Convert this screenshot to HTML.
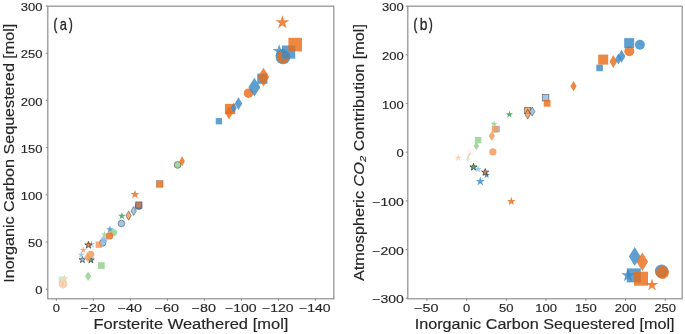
<!DOCTYPE html>
<html><head><meta charset="utf-8"><style>
html,body{margin:0;padding:0;background:#fff;width:685px;height:334px;overflow:hidden}
svg{display:block;will-change:transform}
text{font-family:"Liberation Sans", sans-serif;fill:#262626;stroke:#262626;stroke-width:0.15px}
</style></head><body>
<svg width="685" height="334" viewBox="0 0 685 334">
<rect width="685" height="334" fill="#fff"/>
<rect x="47.8" y="6.2" width="286.0" height="292.6" fill="none" stroke="#8e8e8e" stroke-width="1.2"/>
<rect x="407.8" y="6.2" width="274.40000000000003" height="292.6" fill="none" stroke="#8e8e8e" stroke-width="1.2"/>
<line x1="45.8" y1="289.2" x2="47.8" y2="289.2" stroke="#8e8e8e" stroke-width="1.1"/>
<text x="42.5" y="294.3" text-anchor="end" font-size="11.5" textLength="7.22" lengthAdjust="spacingAndGlyphs">0</text>
<line x1="45.8" y1="242.0" x2="47.8" y2="242.0" stroke="#8e8e8e" stroke-width="1.1"/>
<text x="42.5" y="247.1" text-anchor="end" font-size="11.5" textLength="14.44" lengthAdjust="spacingAndGlyphs">50</text>
<line x1="45.8" y1="194.8" x2="47.8" y2="194.8" stroke="#8e8e8e" stroke-width="1.1"/>
<text x="42.5" y="199.9" text-anchor="end" font-size="11.5" textLength="21.66" lengthAdjust="spacingAndGlyphs">100</text>
<line x1="45.8" y1="147.6" x2="47.8" y2="147.6" stroke="#8e8e8e" stroke-width="1.1"/>
<text x="42.5" y="152.7" text-anchor="end" font-size="11.5" textLength="21.66" lengthAdjust="spacingAndGlyphs">150</text>
<line x1="45.8" y1="100.4" x2="47.8" y2="100.4" stroke="#8e8e8e" stroke-width="1.1"/>
<text x="42.5" y="105.5" text-anchor="end" font-size="11.5" textLength="21.66" lengthAdjust="spacingAndGlyphs">200</text>
<line x1="45.8" y1="53.19999999999999" x2="47.8" y2="53.19999999999999" stroke="#8e8e8e" stroke-width="1.1"/>
<text x="42.5" y="58.29999999999999" text-anchor="end" font-size="11.5" textLength="21.66" lengthAdjust="spacingAndGlyphs">250</text>
<line x1="45.8" y1="6.0" x2="47.8" y2="6.0" stroke="#8e8e8e" stroke-width="1.1"/>
<text x="42.5" y="11.1" text-anchor="end" font-size="11.5" textLength="21.66" lengthAdjust="spacingAndGlyphs">300</text>
<line x1="56.4" y1="298.8" x2="56.4" y2="300.8" stroke="#8e8e8e" stroke-width="1.1"/>
<text x="56.40" y="311.9" text-anchor="middle" font-size="11.5" textLength="7.22" lengthAdjust="spacingAndGlyphs">0</text>
<line x1="93.4" y1="298.8" x2="93.4" y2="300.8" stroke="#8e8e8e" stroke-width="1.1"/>
<text x="92.80" y="311.9" text-anchor="middle" font-size="11.5" textLength="24.33" lengthAdjust="spacingAndGlyphs">−20</text>
<line x1="130.4" y1="298.8" x2="130.4" y2="300.8" stroke="#8e8e8e" stroke-width="1.1"/>
<text x="129.80" y="311.9" text-anchor="middle" font-size="11.5" textLength="24.33" lengthAdjust="spacingAndGlyphs">−40</text>
<line x1="167.4" y1="298.8" x2="167.4" y2="300.8" stroke="#8e8e8e" stroke-width="1.1"/>
<text x="166.80" y="311.9" text-anchor="middle" font-size="11.5" textLength="24.33" lengthAdjust="spacingAndGlyphs">−60</text>
<line x1="204.4" y1="298.8" x2="204.4" y2="300.8" stroke="#8e8e8e" stroke-width="1.1"/>
<text x="203.80" y="311.9" text-anchor="middle" font-size="11.5" textLength="24.33" lengthAdjust="spacingAndGlyphs">−80</text>
<line x1="241.4" y1="298.8" x2="241.4" y2="300.8" stroke="#8e8e8e" stroke-width="1.1"/>
<text x="240.80" y="311.9" text-anchor="middle" font-size="11.5" textLength="31.55" lengthAdjust="spacingAndGlyphs">−100</text>
<line x1="278.4" y1="298.8" x2="278.4" y2="300.8" stroke="#8e8e8e" stroke-width="1.1"/>
<text x="277.80" y="311.9" text-anchor="middle" font-size="11.5" textLength="31.55" lengthAdjust="spacingAndGlyphs">−120</text>
<line x1="315.4" y1="298.8" x2="315.4" y2="300.8" stroke="#8e8e8e" stroke-width="1.1"/>
<text x="314.80" y="311.9" text-anchor="middle" font-size="11.5" textLength="31.55" lengthAdjust="spacingAndGlyphs">−140</text>
<line x1="405.8" y1="6.189999999999969" x2="407.8" y2="6.189999999999969" stroke="#8e8e8e" stroke-width="1.1"/>
<text x="403.8" y="11.289999999999969" text-anchor="end" font-size="11.5" textLength="21.66" lengthAdjust="spacingAndGlyphs">300</text>
<line x1="405.8" y1="54.859999999999985" x2="407.8" y2="54.859999999999985" stroke="#8e8e8e" stroke-width="1.1"/>
<text x="403.8" y="59.95999999999999" text-anchor="end" font-size="11.5" textLength="21.66" lengthAdjust="spacingAndGlyphs">200</text>
<line x1="405.8" y1="103.52999999999999" x2="407.8" y2="103.52999999999999" stroke="#8e8e8e" stroke-width="1.1"/>
<text x="403.8" y="108.62999999999998" text-anchor="end" font-size="11.5" textLength="21.66" lengthAdjust="spacingAndGlyphs">100</text>
<line x1="405.8" y1="152.2" x2="407.8" y2="152.2" stroke="#8e8e8e" stroke-width="1.1"/>
<text x="403.8" y="157.29999999999998" text-anchor="end" font-size="11.5" textLength="7.22" lengthAdjust="spacingAndGlyphs">0</text>
<line x1="405.8" y1="200.87" x2="407.8" y2="200.87" stroke="#8e8e8e" stroke-width="1.1"/>
<text x="403.8" y="205.97" text-anchor="end" font-size="11.5" textLength="31.55" lengthAdjust="spacingAndGlyphs">−100</text>
<line x1="405.8" y1="249.54" x2="407.8" y2="249.54" stroke="#8e8e8e" stroke-width="1.1"/>
<text x="403.8" y="254.64" text-anchor="end" font-size="11.5" textLength="31.55" lengthAdjust="spacingAndGlyphs">−200</text>
<line x1="405.8" y1="298.21000000000004" x2="407.8" y2="298.21000000000004" stroke="#8e8e8e" stroke-width="1.1"/>
<text x="403.8" y="303.31000000000006" text-anchor="end" font-size="11.5" textLength="31.55" lengthAdjust="spacingAndGlyphs">−300</text>
<line x1="426.87" y1="298.8" x2="426.87" y2="300.8" stroke="#8e8e8e" stroke-width="1.1"/>
<text x="426.27" y="311.9" text-anchor="middle" font-size="11.5" textLength="24.33" lengthAdjust="spacingAndGlyphs">−50</text>
<line x1="466.6" y1="298.8" x2="466.6" y2="300.8" stroke="#8e8e8e" stroke-width="1.1"/>
<text x="466.60" y="311.9" text-anchor="middle" font-size="11.5" textLength="7.22" lengthAdjust="spacingAndGlyphs">0</text>
<line x1="506.33000000000004" y1="298.8" x2="506.33000000000004" y2="300.8" stroke="#8e8e8e" stroke-width="1.1"/>
<text x="506.33" y="311.9" text-anchor="middle" font-size="11.5" textLength="14.44" lengthAdjust="spacingAndGlyphs">50</text>
<line x1="546.0600000000001" y1="298.8" x2="546.0600000000001" y2="300.8" stroke="#8e8e8e" stroke-width="1.1"/>
<text x="546.06" y="311.9" text-anchor="middle" font-size="11.5" textLength="21.66" lengthAdjust="spacingAndGlyphs">100</text>
<line x1="585.79" y1="298.8" x2="585.79" y2="300.8" stroke="#8e8e8e" stroke-width="1.1"/>
<text x="585.79" y="311.9" text-anchor="middle" font-size="11.5" textLength="21.66" lengthAdjust="spacingAndGlyphs">150</text>
<line x1="625.52" y1="298.8" x2="625.52" y2="300.8" stroke="#8e8e8e" stroke-width="1.1"/>
<text x="625.52" y="311.9" text-anchor="middle" font-size="11.5" textLength="21.66" lengthAdjust="spacingAndGlyphs">200</text>
<line x1="665.25" y1="298.8" x2="665.25" y2="300.8" stroke="#8e8e8e" stroke-width="1.1"/>
<text x="665.25" y="311.9" text-anchor="middle" font-size="11.5" textLength="21.66" lengthAdjust="spacingAndGlyphs">250</text>
<text x="190.9" y="328.6" text-anchor="middle" font-size="13.8" textLength="195" lengthAdjust="spacingAndGlyphs">Forsterite Weathered [mol]</text>
<text x="544.6" y="328.6" text-anchor="middle" font-size="13.8" textLength="259.8" lengthAdjust="spacingAndGlyphs">Inorganic Carbon Sequestered [mol]</text>
<text transform="translate(13.9,153.2) rotate(-90)" x="0" y="0" text-anchor="middle" font-size="13.8" textLength="259" lengthAdjust="spacingAndGlyphs">Inorganic Carbon Sequestered [mol]</text>
<text transform="translate(363.9,152.6) rotate(-90)" x="0" y="0" text-anchor="middle" font-size="13.8" textLength="257" lengthAdjust="spacingAndGlyphs">Atmospheric <tspan font-style="italic">CO</tspan><tspan font-style="italic" font-size="9.5" dy="2.5">2</tspan><tspan dy="-2.5"> Contribution [mol]</tspan></text>
<text transform="translate(53.6,29.7) scale(0.65,1)" font-size="17.1" fill="#111" stroke="#111" style="stroke-width:0.6px">(</text>
<text transform="translate(59.66,29.7) scale(0.83,1)" font-size="15.6" fill="#111" stroke="#111" style="stroke-width:0.3px">a</text>
<text transform="translate(69.1,29.7) scale(0.65,1)" font-size="17.1" fill="#111" stroke="#111" style="stroke-width:0.6px">)</text>
<text transform="translate(413.6,29.7) scale(0.65,1)" font-size="17.1" fill="#111" stroke="#111" style="stroke-width:0.6px">(</text>
<text transform="translate(419.65999999999997,29.7) scale(0.84,1)" font-size="16.5" fill="#111" stroke="#111" style="stroke-width:0.3px">b</text>
<text transform="translate(429.1,29.7) scale(0.65,1)" font-size="17.1" fill="#111" stroke="#111" style="stroke-width:0.6px">)</text>
<path d="M64.40,274.60 L65.30,277.36 L68.20,277.36 L65.85,279.07 L66.75,281.84 L64.40,280.13 L62.05,281.84 L62.95,279.07 L60.60,277.36 L63.50,277.36 Z" fill="#F6C8A4" fill-opacity="0.85"/>
<rect x="58.60" y="276.30" width="6.6" height="6.6" fill="#CDE8C2" fill-opacity="0.9"/>
<circle cx="63.0" cy="284.0" r="4.4" fill="#F6C8A4" fill-opacity="0.9"/>
<path d="M62.60,279.50 L65.30,284.00 L62.60,288.50 L59.90,284.00 Z" fill="#F6C8A4" fill-opacity="0.9" stroke="#ffffff" stroke-width="0.6" stroke-opacity="0.6"/>
<rect x="97.95" y="262.25" width="6.7" height="6.7" fill="#91CE8B" fill-opacity="0.82"/>
<path d="M88.10,271.60 L91.20,276.30 L88.10,281.00 L85.00,276.30 Z" fill="#91CE8B" fill-opacity="0.82"/>
<path d="M82.40,256.30 L83.19,258.72 L85.73,258.72 L83.67,260.21 L84.46,262.63 L82.40,261.14 L80.34,262.63 L81.13,260.21 L79.07,258.72 L81.61,258.72 Z" fill="#8BBCE7" fill-opacity="0.82" stroke="#333333" stroke-width="0.8" stroke-opacity="0.85"/>
<path d="M90.90,256.50 L91.69,258.92 L94.23,258.92 L92.17,260.41 L92.96,262.83 L90.90,261.34 L88.84,262.83 L89.63,260.41 L87.57,258.92 L90.11,258.92 Z" fill="#2E9E50" fill-opacity="0.82" stroke="#333333" stroke-width="0.8" stroke-opacity="0.85"/>
<path d="M83.30,246.30 L84.15,248.93 L86.91,248.93 L84.68,250.55 L85.53,253.17 L83.30,251.55 L81.07,253.17 L81.92,250.55 L79.69,248.93 L82.45,248.93 Z" fill="#F39754" fill-opacity="0.82"/>
<path d="M81.20,251.00 L82.05,253.63 L84.81,253.63 L82.58,255.25 L83.43,257.87 L81.20,256.25 L78.97,257.87 L79.82,255.25 L77.59,253.63 L80.35,253.63 Z" fill="#8BBCE7" fill-opacity="0.82"/>
<circle cx="90.7" cy="254.4" r="3.6" fill="#F39754" fill-opacity="0.82"/>
<path d="M87.70,251.70 L90.95,257.10 L87.70,262.50 L84.45,257.10 Z" fill="#F39754" fill-opacity="0.82" stroke="#ffffff" stroke-width="0.5" stroke-opacity="0.6"/>
<path d="M91.60,240.50 L92.45,243.13 L95.21,243.13 L92.98,244.75 L93.83,247.37 L91.60,245.75 L89.37,247.37 L90.22,244.75 L87.99,243.13 L90.75,243.13 Z" fill="#8BBCE7" fill-opacity="0.82"/>
<path d="M88.40,241.30 L89.25,243.93 L92.01,243.93 L89.78,245.55 L90.63,248.17 L88.40,246.55 L86.17,248.17 L87.02,245.55 L84.79,243.93 L87.55,243.93 Z" fill="#EA6D17" fill-opacity="0.82" stroke="#333333" stroke-width="0.8" stroke-opacity="0.85"/>
<circle cx="102.6" cy="242.9" r="3.3" fill="#8BBCE7" fill-opacity="0.82" stroke="#333333" stroke-width="0.8" stroke-opacity="0.6"/>
<circle cx="104.1" cy="239.8" r="3.4" fill="#8BBCE7" fill-opacity="0.82"/>
<rect x="95.60" y="241.50" width="6.4" height="6.4" fill="#F39754" fill-opacity="0.82"/>
<path d="M104.60,230.80 L105.45,233.43 L108.21,233.43 L105.98,235.05 L106.83,237.67 L104.60,236.05 L102.37,237.67 L103.22,235.05 L100.99,233.43 L103.75,233.43 Z" fill="#91CE8B" fill-opacity="0.82"/>
<path d="M110.00,225.60 L110.90,228.36 L113.80,228.36 L111.45,230.07 L112.35,232.84 L110.00,231.13 L107.65,232.84 L108.55,230.07 L106.20,228.36 L109.10,228.36 Z" fill="#3C8AC6" fill-opacity="0.82"/>
<circle cx="113.5" cy="232.5" r="3.6" fill="#91CE8B" fill-opacity="0.82"/>
<circle cx="109.6" cy="235.9" r="3.65" fill="#EA6D17" fill-opacity="0.82"/>
<circle cx="121.4" cy="223.5" r="3.3" fill="#8BBCE7" fill-opacity="0.82" stroke="#333333" stroke-width="0.8" stroke-opacity="0.6"/>
<path d="M121.90,212.00 L122.80,214.76 L125.70,214.76 L123.35,216.47 L124.25,219.24 L121.90,217.53 L119.55,219.24 L120.45,216.47 L118.10,214.76 L121.00,214.76 Z" fill="#2E9E50" fill-opacity="0.82"/>
<path d="M128.60,211.20 L131.30,215.70 L128.60,220.20 L125.90,215.70 Z" fill="#F39754" fill-opacity="0.82" stroke="#333333" stroke-width="0.8" stroke-opacity="0.6"/>
<path d="M133.60,206.50 L136.30,211.00 L133.60,215.50 L130.90,211.00 Z" fill="#8BBCE7" fill-opacity="0.82" stroke="#333333" stroke-width="0.8" stroke-opacity="0.6"/>
<circle cx="138.6" cy="206.2" r="3.7" fill="#3C8AC6" fill-opacity="0.82"/>
<rect x="135.70" y="201.90" width="6.3" height="6.3" fill="#B97D64" fill-opacity="0.95" stroke="#333333" stroke-width="0.8" stroke-opacity="0.6"/>
<path d="M135.00,189.65 L136.09,193.00 L139.61,193.00 L136.76,195.07 L137.85,198.42 L135.00,196.35 L132.15,198.42 L133.24,195.07 L130.39,193.00 L133.91,193.00 Z" fill="#EA6D17" fill-opacity="0.82"/>
<rect x="156.45" y="180.60" width="6.6" height="6.6" fill="#EA6D17" fill-opacity="0.82" stroke="#333333" stroke-width="0.5" stroke-opacity="0.6"/>
<circle cx="177.6" cy="164.9" r="3.4" fill="#91CE8B" fill-opacity="0.82" stroke="#333333" stroke-width="0.8" stroke-opacity="0.6"/>
<path d="M182.10,156.25 L184.90,161.20 L182.10,166.15 L179.30,161.20 Z" fill="#EA6D17" fill-opacity="0.82"/>
<rect x="215.75" y="118.05" width="6.3" height="6.3" fill="#3C8AC6" fill-opacity="0.82"/>
<path d="M229.00,106.50 L232.90,113.00 L229.00,119.50 L225.10,113.00 Z" fill="#EA6D17" fill-opacity="0.82"/>
<rect x="224.95" y="103.85" width="10.3" height="10.3" fill="#EA6D17" fill-opacity="0.82"/>
<path d="M233.70,102.85 L236.80,108.10 L233.70,113.35 L230.60,108.10 Z" fill="#3C8AC6" fill-opacity="0.82"/>
<path d="M238.50,97.15 L242.30,103.60 L238.50,110.05 L234.70,103.60 Z" fill="#3C8AC6" fill-opacity="0.82"/>
<circle cx="248.5" cy="93.2" r="4.8" fill="#EA6D17" fill-opacity="0.82"/>
<path d="M254.40,77.80 L260.40,87.20 L254.40,96.60 L248.40,87.20 Z" fill="#3C8AC6" fill-opacity="0.82"/>
<rect x="257.20" y="73.60" width="10.2" height="10.2" fill="#3C8AC6" fill-opacity="0.82"/>
<path d="M263.50,67.65 L269.20,77.10 L263.50,86.55 L257.80,77.10 Z" fill="#EA6D17" fill-opacity="0.82"/>
<path d="M282.40,15.20 L284.02,20.18 L289.25,20.18 L285.02,23.25 L286.63,28.22 L282.40,25.15 L278.17,28.22 L279.78,23.25 L275.55,20.18 L280.78,20.18 Z" fill="#EA6D17" fill-opacity="0.82"/>
<path d="M279.20,44.30 L280.75,49.07 L285.76,49.07 L281.71,52.01 L283.26,56.78 L279.20,53.84 L275.14,56.78 L276.69,52.01 L272.64,49.07 L277.65,49.07 Z" fill="#3C8AC6" fill-opacity="0.82"/>
<circle cx="283.0" cy="57.0" r="7.3" fill="#3C8AC6" fill-opacity="0.82"/>
<circle cx="283.2" cy="56.8" r="6.4" fill="#EA6D17" fill-opacity="0.82"/>
<rect x="282.00" y="45.50" width="13.2" height="13.2" fill="#3C8AC6" fill-opacity="0.82"/>
<rect x="288.40" y="37.80" width="13.6" height="13.6" fill="#EA6D17" fill-opacity="0.82"/>
<path d="M458.20,154.10 L459.05,156.73 L461.81,156.73 L459.58,158.35 L460.43,160.97 L458.20,159.35 L455.97,160.97 L456.82,158.35 L454.59,156.73 L457.35,156.73 Z" fill="#F6C8A4" fill-opacity="0.75"/>
<circle cx="470.6" cy="152.2" r="3.8" fill="#FBE9DC" fill-opacity="0.35"/>
<path d="M468.00,156.70 L470.00,159.20 L468.00,161.70 L466.00,159.20 Z" fill="#CDE8C2" fill-opacity="0.8"/>
<line x1="467.4" y1="157.6" x2="470.3" y2="152.9" stroke="#F3B88C" stroke-width="1.3" stroke-opacity="0.75"/>
<rect x="474.90" y="137.00" width="6.4" height="6.4" fill="#91CE8B" fill-opacity="0.82"/>
<path d="M476.30,141.70 L479.05,145.90 L476.30,150.10 L473.55,145.90 Z" fill="#91CE8B" fill-opacity="0.82"/>
<circle cx="492.9" cy="151.9" r="3.6" fill="#F39754" fill-opacity="0.82"/>
<path d="M491.85,131.00 L494.95,136.00 L491.85,141.00 L488.75,136.00 Z" fill="#F39754" fill-opacity="0.82"/>
<rect x="493.80" y="125.80" width="6.4" height="6.4" fill="#8BBCE7" fill-opacity="0.82"/>
<rect x="491.80" y="126.00" width="6.6" height="6.6" fill="#F39754" fill-opacity="0.82"/>
<path d="M494.10,120.30 L494.93,122.86 L497.62,122.86 L495.44,124.44 L496.27,126.99 L494.10,125.41 L491.93,126.99 L492.76,124.44 L490.58,122.86 L493.27,122.86 Z" fill="#91CE8B" fill-opacity="0.82"/>
<path d="M509.40,110.70 L510.25,113.33 L513.01,113.33 L510.78,114.95 L511.63,117.57 L509.40,115.95 L507.17,117.57 L508.02,114.95 L505.79,113.33 L508.55,113.33 Z" fill="#2E9E50" fill-opacity="0.82"/>
<rect x="524.60" y="107.40" width="6.2" height="6.2" fill="#F39754" fill-opacity="0.82" stroke="#333333" stroke-width="0.8" stroke-opacity="0.6"/>
<path d="M527.70,109.20 L530.40,114.20 L527.70,119.20 L525.00,114.20 Z" fill="#F39754" fill-opacity="0.82" stroke="#333333" stroke-width="0.8" stroke-opacity="0.6"/>
<path d="M532.20,107.00 L534.90,111.50 L532.20,116.00 L529.50,111.50 Z" fill="#8BBCE7" fill-opacity="0.82" stroke="#333333" stroke-width="0.8" stroke-opacity="0.6"/>
<rect x="542.35" y="94.45" width="6.5" height="6.5" fill="#8BBCE7" fill-opacity="0.82" stroke="#333333" stroke-width="0.8" stroke-opacity="0.6"/>
<rect x="543.70" y="99.90" width="6.8" height="6.8" fill="#EA6D17" fill-opacity="0.82"/>
<path d="M573.50,81.10 L576.60,86.20 L573.50,91.30 L570.40,86.20 Z" fill="#EA6D17" fill-opacity="0.82"/>
<rect x="596.30" y="64.60" width="6.6" height="6.6" fill="#3C8AC6" fill-opacity="0.82"/>
<rect x="598.20" y="54.60" width="10.0" height="10.0" fill="#EA6D17" fill-opacity="0.82"/>
<path d="M613.30,54.90 L617.10,61.40 L613.30,67.90 L609.50,61.40 Z" fill="#EA6D17" fill-opacity="0.82"/>
<path d="M618.40,53.40 L621.70,58.90 L618.40,64.40 L615.10,58.90 Z" fill="#3C8AC6" fill-opacity="0.82"/>
<path d="M621.60,49.70 L625.40,56.20 L621.60,62.70 L617.80,56.20 Z" fill="#3C8AC6" fill-opacity="0.82"/>
<circle cx="629.3" cy="51.2" r="5.0" fill="#EA6D17" fill-opacity="0.82"/>
<rect x="624.20" y="38.10" width="10.0" height="10.0" fill="#3C8AC6" fill-opacity="0.82"/>
<circle cx="639.9" cy="44.8" r="4.95" fill="#3C8AC6" fill-opacity="0.82"/>
<path d="M473.50,163.30 L474.35,165.93 L477.11,165.93 L474.88,167.55 L475.73,170.17 L473.50,168.55 L471.27,170.17 L472.12,167.55 L469.89,165.93 L472.65,165.93 Z" fill="#2E9E50" fill-opacity="0.82" stroke="#333333" stroke-width="0.8" stroke-opacity="0.85"/>
<path d="M478.00,165.40 L478.85,168.03 L481.61,168.03 L479.38,169.65 L480.23,172.27 L478.00,170.65 L475.77,172.27 L476.62,169.65 L474.39,168.03 L477.15,168.03 Z" fill="#8BBCE7" fill-opacity="0.82"/>
<path d="M486.60,171.40 L487.45,174.03 L490.21,174.03 L487.98,175.65 L488.83,178.27 L486.60,176.65 L484.37,178.27 L485.22,175.65 L482.99,174.03 L485.75,174.03 Z" fill="#3C8AC6" fill-opacity="0.82"/>
<path d="M485.20,168.50 L486.05,171.13 L488.81,171.13 L486.58,172.75 L487.43,175.37 L485.20,173.75 L482.97,175.37 L483.82,172.75 L481.59,171.13 L484.35,171.13 Z" fill="#EA6D17" fill-opacity="0.82" stroke="#333333" stroke-width="0.8" stroke-opacity="0.85"/>
<path d="M480.30,176.70 L481.38,180.02 L484.87,180.02 L482.04,182.07 L483.12,185.38 L480.30,183.33 L477.48,185.38 L478.56,182.07 L475.73,180.02 L479.22,180.02 Z" fill="#3C8AC6" fill-opacity="0.82"/>
<path d="M511.30,196.80 L512.33,199.98 L515.67,199.98 L512.97,201.94 L514.00,205.12 L511.30,203.16 L508.60,205.12 L509.63,201.94 L506.93,199.98 L510.27,199.98 Z" fill="#EA6D17" fill-opacity="0.82"/>
<path d="M634.70,247.10 L640.60,256.50 L634.70,265.90 L628.80,256.50 Z" fill="#3C8AC6" fill-opacity="0.82"/>
<path d="M642.30,252.50 L648.10,261.80 L642.30,271.10 L636.50,261.80 Z" fill="#EA6D17" fill-opacity="0.82"/>
<path d="M627.90,268.50 L629.47,273.34 L634.56,273.34 L630.44,276.33 L632.01,281.16 L627.90,278.17 L623.79,281.16 L625.36,276.33 L621.24,273.34 L626.33,273.34 Z" fill="#3C8AC6" fill-opacity="0.82"/>
<rect x="626.80" y="268.40" width="14.0" height="14.0" fill="#3C8AC6" fill-opacity="0.82"/>
<rect x="634.00" y="271.70" width="14.0" height="14.0" fill="#EA6D17" fill-opacity="0.82"/>
<path d="M652.00,278.60 L653.46,283.09 L658.18,283.09 L654.36,285.87 L655.82,290.36 L652.00,287.58 L648.18,290.36 L649.64,285.87 L645.82,283.09 L650.54,283.09 Z" fill="#EA6D17" fill-opacity="0.82"/>
<circle cx="661.6" cy="271.3" r="6.75" fill="#3C8AC6" fill-opacity="0.82"/>
<circle cx="662.5" cy="272.5" r="6.5" fill="#EA6D17" fill-opacity="0.82"/>
</svg>
</body></html>
